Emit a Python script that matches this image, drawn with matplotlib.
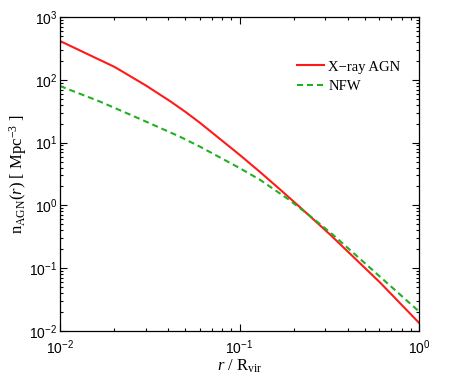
"""Profil de densité n_AGN(r) : AGN X vs profil NFW (log-log)."""

import matplotlib

matplotlib.use("Agg")
import matplotlib.pyplot as plt
from matplotlib.ticker import LogLocator, LogFormatterSciNotation

plt.rcParams["mathtext.fontset"] = "custom"
plt.rcParams["mathtext.rm"] = "Liberation Serif"
plt.rcParams["mathtext.it"] = "Liberation Serif:italic"
plt.rcParams["mathtext.sf"] = "Liberation Sans"

# valeurs
r_agn = [0.01, 0.0202, 0.0301, 0.041, 0.0497, 0.0603, 0.1, 0.13, 0.168, 0.217, 0.319, 0.607, 1.0]
n_agn = [415, 159.6, 81.1, 45.8, 31.2, 20.6, 6.41, 3.41, 1.80, 0.939, 0.345, 0.0591, 0.0135]

r_nfw = [0.01, 0.0167, 0.0279, 0.0466, 0.0603, 0.1, 0.13, 0.186, 0.247, 0.332, 0.607, 1.0]
n_nfw = [79.6, 45.0, 23.8, 12.4, 8.6, 3.94, 2.56, 1.27, 0.681, 0.340, 0.0731, 0.0205]

fig = plt.figure(figsize=(4.63, 3.86), dpi=100)
ax = fig.add_axes([60 / 463, 55 / 386, 359 / 463, 314 / 386])

ax.plot(r_agn, n_agn, color="#ff1a1a", linewidth=1.5, label="X\u2212ray AGN")
ax.plot(r_nfw, n_nfw, color="#22b022", linewidth=1.5, dashes=(2.9, 1.9), label="NFW")

ax.set_xscale("log")
ax.set_yscale("log")
ax.set_xlim(1e-2, 1e0)
ax.set_ylim(1e-2, 1e3)
ax.xaxis.set_major_locator(LogLocator(base=10, numticks=10))
ax.yaxis.set_major_locator(LogLocator(base=10, numticks=10))
ax.xaxis.set_minor_locator(LogLocator(base=10, subs=range(2, 10), numticks=20))
ax.yaxis.set_minor_locator(LogLocator(base=10, subs=range(2, 10), numticks=20))
ax.xaxis.set_major_formatter(LogFormatterSciNotation())
ax.yaxis.set_major_formatter(LogFormatterSciNotation())

ax.tick_params(which="both", direction="in", top=True, right=True, width=0.8)
ax.tick_params(which="major", length=5, labelsize=10)
ax.tick_params(axis="x", which="major", pad=5.5)
ax.tick_params(axis="y", which="major", pad=2)
ax.tick_params(which="minor", length=2.5)
for lab in ax.get_xticklabels() + ax.get_yticklabels():
    lab.set_fontfamily("Liberation Sans")
for sp in ax.spines.values():
    sp.set_linewidth(0.9)

ax.set_xlabel(r"$r$ / R$_{\rm vir}$", fontsize=12, fontfamily="Liberation Serif", labelpad=0)
ax.set_ylabel(r"n$_{\rm AGN}$($r$) [ Mpc$^{-3}$ ]", fontsize=12,
              fontfamily="Liberation Serif", labelpad=0)

ax.legend(loc="upper left", bbox_to_anchor=(0.660, 0.862), frameon=False,
          borderaxespad=0, borderpad=0,
          prop={"family": "Liberation Serif", "size": 10.5},
          handlelength=1.85, handletextpad=0.3, labelspacing=0.45)

fig.savefig("out.png")
